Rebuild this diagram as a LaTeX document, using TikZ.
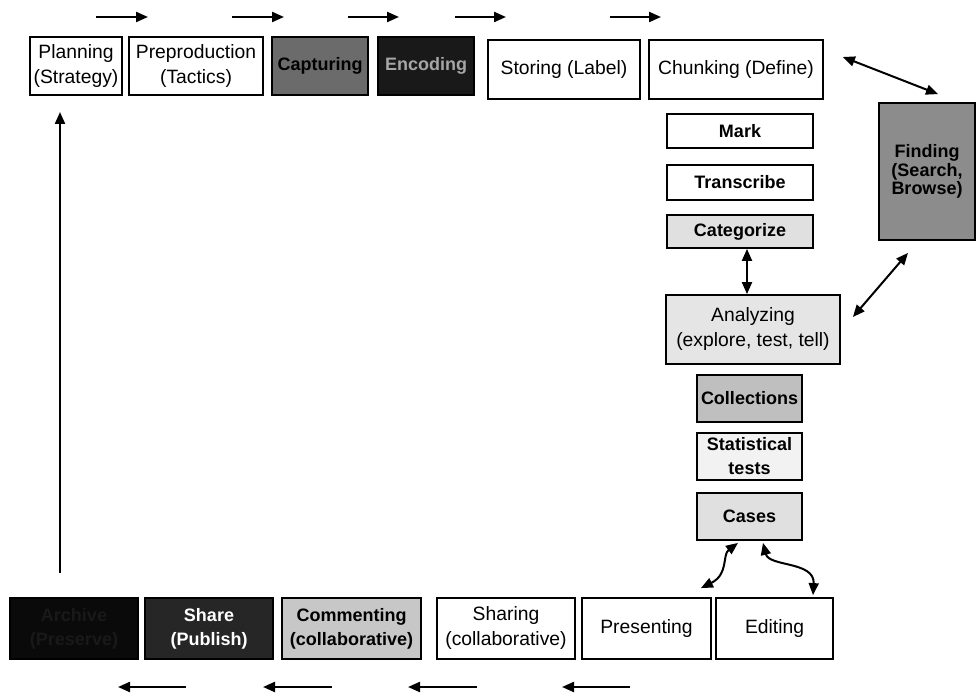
\documentclass[tikz,border=0pt]{standalone}
\usepackage{fontspec}
\setmainfont{Liberation Sans}
\usetikzlibrary{arrows.meta,calc}
\begin{document}
\begin{tikzpicture}[x=1pt,y=-1pt,
  box/.style={draw, line width=1.8pt, inner sep=0pt, align=center, font=\fontsize{19.3}{25}\selectfont},
  bbox/.style={box, font=\fontsize{18}{24}\selectfont\bfseries},
  arr/.style={line width=2.2pt, -{Triangle[length=12pt,width=10pt]}},
  darr/.style={line width=2pt, {Triangle[length=12pt,width=10pt]}-{Triangle[length=12pt,width=10pt]}}
]
\fill[white] (0,0) rectangle (977,700);
\useasboundingbox (0,0) rectangle (977,700);

% top row
\node[box, minimum width=92pt, minimum height=58pt] (planning) at (76,66) {Planning\\(Strategy)};
\node[box, minimum width=134pt, minimum height=58pt] (preprod) at (196,66) {Preproduction\\(Tactics)};
\node[bbox, fill=black!58, minimum width=96pt, minimum height=58pt] (capturing) at (320,66) {Capturing};
\node[bbox, fill=black!90, text=black!35, minimum width=96pt, minimum height=58pt] (encoding) at (426,66) {Encoding};
\node[box, minimum width=152pt, minimum height=59pt] (storing) at (564,69.5) {Storing (Label)};
\node[box, minimum width=174pt, minimum height=59pt] (chunking) at (736,69.5) {Chunking (Define)};

% right column
\node[bbox, minimum width=146pt, minimum height=34pt] (mark) at (740,131) {Mark};
\node[bbox, minimum width=146pt, minimum height=35pt] (transcribe) at (740,182.5) {Transcribe};
\node[bbox, fill=black!12, minimum width=146pt, minimum height=33pt] (categorize) at (740,231.5) {Categorize};
\node[bbox, fill=black!45, minimum width=96pt, minimum height=137pt, font=\fontsize{18}{18.5}\selectfont\bfseries] (finding) at (927,171.5) {Finding\\(Search,\\Browse)};
\node[box, fill=black!10, minimum width=174pt, minimum height=69pt] (analyzing) at (753,329.5) {Analyzing\\(explore, test, tell)};
\node[bbox, fill=black!25, minimum width=105pt, minimum height=47pt] (collections) at (749.5,398.5) {Collections};
\node[bbox, fill=black!5, minimum width=105pt, minimum height=47pt] (stats) at (749.5,456.5) {Statistical\\tests};
\node[bbox, fill=black!12, minimum width=105pt, minimum height=47pt] (cases) at (749.5,516.5) {Cases};

% bottom row
\node[bbox, fill=black!96, text=black!90, minimum width=128pt, minimum height=61pt] (archive) at (74,628.5) {Archive\\(Preserve)};
\node[bbox, fill=black!85, text=white, minimum width=128pt, minimum height=61pt] (share) at (209,628.5) {Share\\(Publish)};
\node[bbox, fill=black!22, minimum width=139pt, minimum height=61pt] (commenting) at (351.5,628.5) {Commenting\\(collaborative)};
\node[box, minimum width=138pt, minimum height=61pt] (sharing) at (506,628.5) {Sharing\\(collaborative)};
\node[box, minimum width=129pt, minimum height=61pt] (presenting) at (646.5,628.5) {Presenting};
\node[box, minimum width=117pt, minimum height=61pt] (editing) at (774.5,628.5) {Editing};

% top arrows
\coordinate (t1a) at (96,17);  \coordinate (t1b) at (148,17);
\coordinate (t2a) at (232,17); \coordinate (t2b) at (284,17);
\coordinate (t3a) at (348,17); \coordinate (t3b) at (399,17);
\coordinate (t4a) at (455,17); \coordinate (t4b) at (506,17);
\coordinate (t5a) at (610,17); \coordinate (t5b) at (661,17);
\foreach \i in {1,...,5} \draw[arr] (t\i a) -- (t\i b);

% bottom arrows
\coordinate (b1a) at (186,687); \coordinate (b1b) at (118,687);
\coordinate (b2a) at (332,687); \coordinate (b2b) at (263,687);
\coordinate (b3a) at (477,687); \coordinate (b3b) at (408,687);
\coordinate (b4a) at (630,687); \coordinate (b4b) at (562,687);
\foreach \i in {1,...,4} \draw[arr] (b\i a) -- (b\i b);

% left vertical arrow
\coordinate (va) at (60,573);
\coordinate (vb) at (60,112);
\draw[arr] (va) -- (vb);

% chunking <-> finding
\draw[darr] ($(chunking.east)+(19,-12.5)$) -- ($(finding.north)+(11,-8)$);
% finding <-> analyzing
\draw[darr] ($(finding.south)+(-19,12)$) -- ($(analyzing.east)+(12,-12.5)$);
% categorize <-> analyzing
\coordinate (cx) at (747,0);
\draw[darr] (categorize.south -| cx) -- (analyzing.north -| cx);
% cases <-> presenting
\draw[darr] ($(cases.south)+(-11.5,2)$) .. controls +(-16,12) and +(28,-14) .. ($(presenting.north east)+(-11,-9)$);
% cases <-> editing
\draw[darr] ($(cases.south)+(13.5,2)$) .. controls +(6,24) and +(2,-34) .. ($(editing.north)+(38.5,-2)$);
\end{tikzpicture}
\end{document}
